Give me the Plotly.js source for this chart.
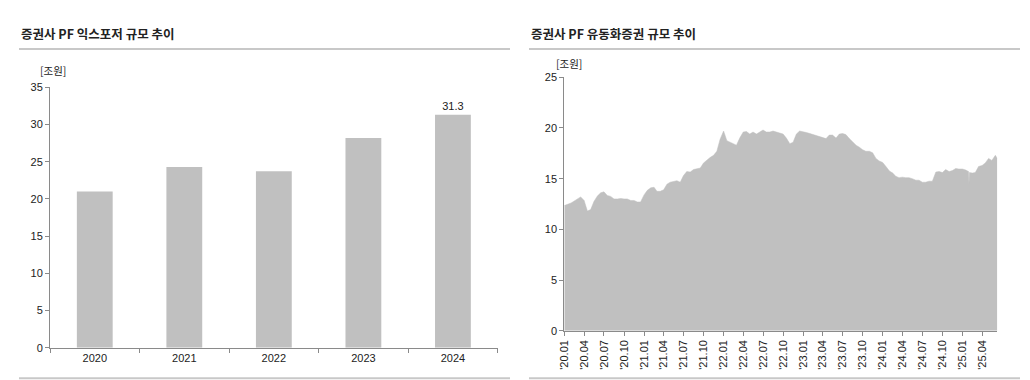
<!DOCTYPE html>
<html>
<head>
<meta charset="utf-8">
<script src="https://cdn.plot.ly/plotly-3.0.1.min.js"></script>
<style>
html,body{margin:0;padding:0;background:#fff;}
#chart{width:1030px;height:380px;}
</style>
</head>
<body>
<div id="chart"></div>
<script>
// ---- Left chart data: 증권사 PF 익스포저 규모 (조원)
const exposureYears = ['2020', '2021', '2022', '2023', '2024'];
const exposureValues = [21.0, 24.3, 23.7, 28.2, 31.3];
const exposureLabelShown = [false, false, false, false, true];

// ---- Right chart data: 증권사 PF 유동화증권 규모 (조원), half-monthly readings
const abcpDates2020 = ['2020-01-01','2020-01-16','2020-02-01','2020-02-16','2020-03-01','2020-03-16','2020-04-01','2020-04-16','2020-05-01','2020-05-16','2020-06-01','2020-06-16','2020-07-01','2020-07-16','2020-08-01','2020-08-16','2020-09-01','2020-09-16','2020-10-01','2020-10-16','2020-11-01','2020-11-16','2020-12-01','2020-12-16'];
const abcpValues2020 = [12.35,12.45,12.6,12.8,13.0,13.2,12.85,11.8,11.95,12.75,13.3,13.6,13.7,13.35,13.25,13.0,13.0,13.05,13.0,13.0,12.85,12.85,12.7,12.7];
const abcpDates2021 = ['2021-01-01','2021-01-16','2021-02-01','2021-02-16','2021-03-01','2021-03-16','2021-04-01','2021-04-16','2021-05-01','2021-05-16','2021-06-01','2021-06-16','2021-07-01','2021-07-16','2021-08-01','2021-08-16','2021-09-01','2021-09-16','2021-10-01','2021-10-16','2021-11-01','2021-11-16','2021-12-01','2021-12-16'];
const abcpValues2021 = [13.4,13.85,14.1,14.15,13.75,13.75,13.9,14.45,14.65,14.75,14.8,14.65,15.3,15.7,15.65,15.9,16.0,16.05,16.55,16.85,17.1,17.3,17.7,18.9];
const abcpDates2022 = ['2022-01-01','2022-01-16','2022-02-01','2022-02-16','2022-03-01','2022-03-16','2022-04-01','2022-04-16','2022-05-01','2022-05-16','2022-06-01','2022-06-16','2022-07-01','2022-07-16','2022-08-01','2022-08-16','2022-09-01','2022-09-16','2022-10-01','2022-10-16','2022-11-01','2022-11-16','2022-12-01','2022-12-16'];
const abcpValues2022 = [19.7,18.75,18.6,18.4,18.3,19.0,19.6,19.65,19.4,19.6,19.4,19.6,19.8,19.6,19.6,19.7,19.6,19.5,19.4,19.0,18.45,18.6,19.4,19.7];
const abcpDates2023 = ['2023-01-01','2023-01-16','2023-02-01','2023-02-16','2023-03-01','2023-03-16','2023-04-01','2023-04-16','2023-05-01','2023-05-16','2023-06-01','2023-06-16','2023-07-01','2023-07-16','2023-08-01','2023-08-16','2023-09-01','2023-09-16','2023-10-01','2023-10-16','2023-11-01','2023-11-16','2023-12-01','2023-12-16'];
const abcpValues2023 = [19.65,19.55,19.45,19.35,19.25,19.15,19.0,18.95,19.3,19.3,19.0,19.4,19.45,19.35,18.95,18.6,18.3,18.1,17.85,17.7,17.7,17.55,17.0,16.75];
const abcpDates2024 = ['2024-01-01','2024-01-16','2024-02-01','2024-02-16','2024-03-01','2024-03-16','2024-04-01','2024-04-16','2024-05-01','2024-05-16','2024-06-01','2024-06-16','2024-07-01','2024-07-16','2024-08-01','2024-08-16','2024-09-01','2024-09-16','2024-10-01','2024-10-16','2024-11-01','2024-11-16','2024-12-01','2024-12-16'];
const abcpValues2024 = [16.6,16.2,15.75,15.55,15.25,15.1,15.15,15.1,15.1,15.0,14.85,14.85,14.65,14.65,14.75,14.75,15.65,15.7,15.6,15.9,15.7,15.8,16.0,15.95];
const abcpDates2025 = ['2025-01-01','2025-01-16','2025-01-29','2025-01-31','2025-02-02','2025-02-16','2025-03-01','2025-03-16','2025-04-01','2025-04-16','2025-05-01','2025-05-16','2025-06-01','2025-06-10'];
const abcpValues2025 = [15.95,15.85,15.7,14.5,15.6,15.55,15.6,16.2,16.3,16.55,17.0,16.8,17.3,17.0];

const quarterTickVals = ['2020-01-01','2020-04-01','2020-07-01','2020-10-01','2021-01-01','2021-04-01','2021-07-01','2021-10-01','2022-01-01','2022-04-01','2022-07-01','2022-10-01','2023-01-01','2023-04-01','2023-07-01','2023-10-01','2024-01-01','2024-04-01','2024-07-01','2024-10-01','2025-01-01','2025-04-01'];
const quarterTickText = ["'20.01","'20.04","'20.07","'20.10","'21.01","'21.04","'21.07","'21.10","'22.01","'22.04","'22.07","'22.10","'23.01","'23.04","'23.07","'23.10","'24.01","'24.04","'24.07","'24.10","'25.01","'25.04"];

const leftTitle = '증권사 PF 익스포저 규모 추이';
const rightTitle = '증권사 PF 유동화증권 규모 추이';
const unitLabel = '[조원]';

const abcpDates = [].concat(abcpDates2020, abcpDates2021, abcpDates2022, abcpDates2023, abcpDates2024, abcpDates2025);
const abcpValues = [].concat(abcpValues2020, abcpValues2021, abcpValues2022, abcpValues2023, abcpValues2024, abcpValues2025);

const W = 1030, H = 380;
const px = v => v / W;
const py = v => 1 - v / H;

const KR = '"Noto Sans CJK KR", "Noto Sans", sans-serif';
const NUM = '"Liberation Sans", Arial, sans-serif';
const GREY = '#c0c0c0';
const AXIS = '#8a8a8a';

const traces = [
  {
    type: 'bar',
    x: exposureYears,
    y: exposureValues,
    xaxis: 'x', yaxis: 'y',
    width: 0.4,
    marker: {color: GREY, line: {width: 0}},
    text: exposureValues.map((v, i) => exposureLabelShown[i] ? v.toFixed(1) : ''),
    textposition: 'outside',
    textfont: {family: NUM, size: 11, color: '#222'},
    cliponaxis: false,
    hoverinfo: 'skip'
  },
  {
    type: 'scatter',
    mode: 'lines',
    x: abcpDates,
    y: abcpValues,
    xaxis: 'x2', yaxis: 'y2',
    fill: 'tozeroy',
    fillcolor: GREY,
    line: {color: GREY, width: 0.5},
    hoverinfo: 'skip'
  }
];

const axisCommon = {
  showline: true, linecolor: AXIS, linewidth: 1,
  ticks: 'outside', ticklen: 4, tickcolor: AXIS, tickwidth: 1,
  showgrid: false, zeroline: false,
  tickfont: {family: NUM, size: 11, color: '#222'},
  fixedrange: true
};

const layout = {
  width: W, height: H,
  margin: {l: 0, r: 0, t: 0, b: 0},
  paper_bgcolor: '#fff', plot_bgcolor: '#fff',
  showlegend: false,
  xaxis: Object.assign({}, axisCommon, {
    domain: [px(50), px(497.7)],
    type: 'category',
    range: [-0.5, 4.5],
    tickson: 'boundaries',
    anchor: 'y'
  }),
  yaxis: Object.assign({}, axisCommon, {
    domain: [py(347.7), py(87.3)],
    range: [0, 35], dtick: 5, tick0: 0,
    anchor: 'x'
  }),
  xaxis2: Object.assign({}, axisCommon, {
    domain: [px(564.3), px(997.3)],
    type: 'date',
    range: ['2020-01-01', '2025-06-10'],
    tickmode: 'array',
    tickvals: quarterTickVals,
    ticktext: quarterTickText,
    tickangle: -90,
    anchor: 'y2'
  }),
  yaxis2: Object.assign({}, axisCommon, {
    domain: [py(330.7), py(77.3)],
    range: [0, 25], dtick: 5, tick0: 0,
    anchor: 'x2'
  }),
  annotations: [
    {text: leftTitle, xref: 'paper', yref: 'paper', x: px(19), y: py(33.5), xanchor: 'left', yanchor: 'middle', showarrow: false, font: {family: KR, size: 12.5, color: '#222', weight: 'bold'}},
    {text: rightTitle, xref: 'paper', yref: 'paper', x: px(529), y: py(33.5), xanchor: 'left', yanchor: 'middle', showarrow: false, font: {family: KR, size: 12.5, color: '#222', weight: 'bold'}},
    {text: unitLabel, xref: 'paper', yref: 'paper', x: px(38), y: py(70), xanchor: 'left', yanchor: 'middle', showarrow: false, font: {family: KR, size: 10.5, color: '#222'}},
    {text: unitLabel, xref: 'paper', yref: 'paper', x: px(554), y: py(63.5), xanchor: 'left', yanchor: 'middle', showarrow: false, font: {family: KR, size: 10.5, color: '#222'}}
  ],
  shapes: [
    {type: 'line', xref: 'paper', yref: 'paper', x0: px(19), x1: px(510), y0: py(49), y1: py(49), line: {color: '#c8c8c8', width: 2}},
    {type: 'line', xref: 'paper', yref: 'paper', x0: px(529), x1: px(1020), y0: py(49), y1: py(49), line: {color: '#c8c8c8', width: 2}},
    {type: 'line', xref: 'paper', yref: 'paper', x0: px(19), x1: px(510), y0: py(378.3), y1: py(378.3), line: {color: '#c8c8c8', width: 2}},
    {type: 'line', xref: 'paper', yref: 'paper', x0: px(529), x1: px(1020), y0: py(378.3), y1: py(378.3), line: {color: '#c8c8c8', width: 2}}
  ]
};

Plotly.newPlot('chart', traces, layout, {displayModeBar: false, staticPlot: true});
</script>
</body>
</html>
